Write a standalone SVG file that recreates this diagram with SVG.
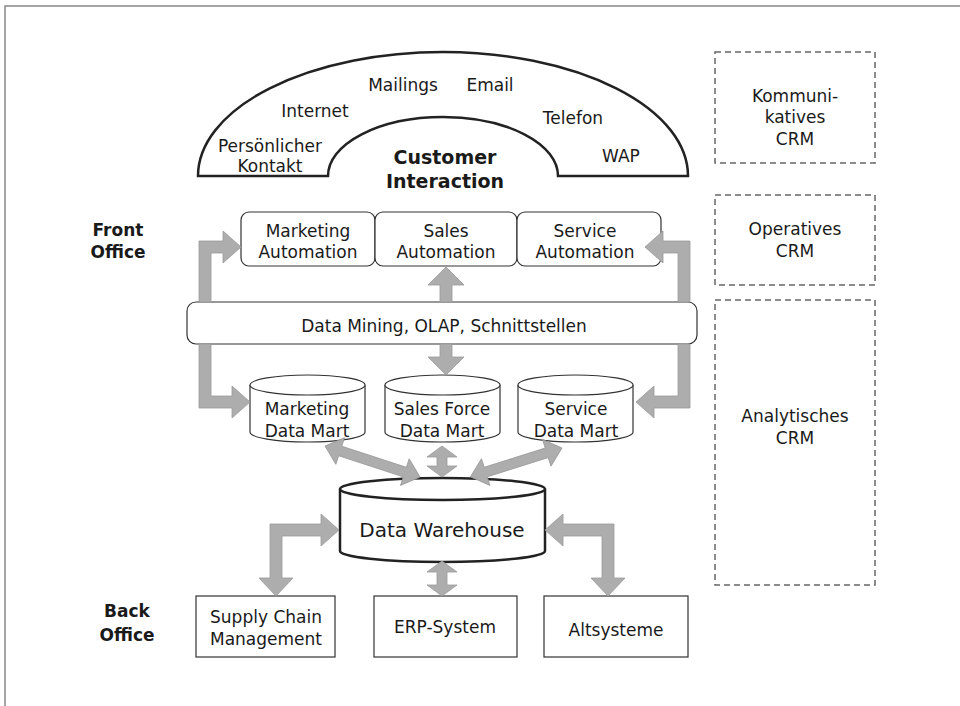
<svg xmlns="http://www.w3.org/2000/svg" width="960" height="706" viewBox="0 0 960 706">
<style>
text{font-family:"DejaVu Sans","Verdana",sans-serif;font-size:17px;fill:#1a1a1a;text-anchor:middle}
.b{font-weight:bold}
.bx{fill:#fff;stroke:#333;stroke-width:1.2}
.dash{fill:none;stroke:#666;stroke-width:1.5;stroke-dasharray:6,4}
.ar{fill:#adadad;stroke:#9a9a9a;stroke-width:0.8}
.cyl{fill:#fff;stroke:#333;stroke-width:1.2}
</style>
<rect width="960" height="706" fill="#fff"/>
<path d="M5,706 V6 H960" fill="none" stroke="#888" stroke-width="1.5"/>

<g id="customer-interaction">
<path d="M198,176 A245,124 0 0 1 688,176 H558 A115,59 0 0 0 328,176 Z" fill="#fff" stroke="#222" stroke-width="2.5"/>
<text x="403" y="91">Mailings</text>
<text x="490" y="91">Email</text>
<text x="315" y="117">Internet</text>
<text x="573" y="124">Telefon</text>
<text x="270" y="152">Persönlicher</text>
<text x="270" y="172">Kontakt</text>
<text x="621" y="162">WAP</text>
<text class="b" x="445" y="164" style="font-size:19px">Customer</text>
<text class="b" x="445" y="188" style="font-size:19px">Interaction</text>
</g>

<g id="front-office-label"><text class="b" x="118" y="236">Front</text><text class="b" x="118" y="258">Office</text></g>
<g id="back-office-label"><text class="b" x="127" y="617">Back</text><text class="b" x="127" y="641">Office</text></g>

<g id="kommunikatives-crm"><rect class="dash" x="715" y="52" width="160" height="111"/><text x="795" y="102">Kommuni-</text><text x="795" y="123">katives</text><text x="795" y="145">CRM</text></g>
<g id="operatives-crm"><rect class="dash" x="715" y="195" width="160" height="90"/><text x="795" y="235">Operatives</text><text x="795" y="257">CRM</text></g>
<g id="analytisches-crm"><rect class="dash" x="715" y="300" width="160" height="285"/><text x="795" y="422">Analytisches</text><text x="795" y="444">CRM</text></g>

<g id="marketing-automation"><rect class="bx" x="241" y="212" width="134" height="54" rx="8"/><text x="308" y="237">Marketing</text><text x="308" y="258">Automation</text></g>
<g id="sales-automation"><rect class="bx" x="375" y="212" width="142" height="54" rx="8"/><text x="446" y="237">Sales</text><text x="446" y="258">Automation</text></g>
<g id="service-automation"><rect class="bx" x="517" y="212" width="144" height="54" rx="8"/><text x="585" y="237">Service</text><text x="585" y="258">Automation</text></g>

<g id="data-mining"><rect class="bx" x="187" y="302" width="510" height="42" rx="9"/><text x="444" y="332">Data Mining, OLAP, Schnittstellen</text></g>

<g id="marketing-data-mart"><path class="cyl" d="M250,385 V432 A57.5,10 0 0 0 365,432 V385"/><ellipse class="cyl" cx="307.5" cy="385" rx="57.5" ry="10"/><text x="307" y="415">Marketing</text><text x="307" y="437">Data Mart</text></g>
<g id="sales-force-data-mart"><path class="cyl" d="M385,385 V432 A57.5,10 0 0 0 500,432 V385"/><ellipse class="cyl" cx="442.5" cy="385" rx="57.5" ry="10"/><text x="442" y="415">Sales Force</text><text x="442" y="437">Data Mart</text></g>
<g id="service-data-mart"><path class="cyl" d="M518,385 V432 A57.5,10 0 0 0 633,432 V385"/><ellipse class="cyl" cx="575.5" cy="385" rx="57.5" ry="10"/><text x="576" y="415">Service</text><text x="576" y="437">Data Mart</text></g>

<g id="data-warehouse"><path d="M340,489 V551 A102.5,11 0 0 0 545,551 V489" fill="#fff" stroke="#222" stroke-width="2.5"/><ellipse cx="442.5" cy="489" rx="102.5" ry="11" fill="#fff" stroke="#222" stroke-width="2.5"/><text x="442" y="537" style="font-size:20px">Data Warehouse</text></g>

<g id="supply-chain"><rect class="bx" x="196" y="596" width="139" height="61"/><text x="266" y="623">Supply Chain</text><text x="266" y="645">Management</text></g>
<g id="erp-system"><rect class="bx" x="374" y="596" width="143" height="61"/><text x="445" y="633">ERP-System</text></g>
<g id="altsysteme"><rect class="bx" x="544" y="596" width="144" height="61"/><text x="616" y="636">Altsysteme</text></g>

<g id="connectors">
<polygon class="ar" points="199,302 199,241 223,241 223,231 241,247 223,263 223,253 211,253 211,302"/>
<polygon class="ar" points="199,344 199,408 232,408 232,418 250,402 232,386 232,396 211,396 211,344"/>
<polygon class="ar" points="690,302 690,241 663,241 663,231 645,247 663,263 663,253 678,253 678,302"/>
<polygon class="ar" points="690,344 690,408 654,408 654,418 636,402 654,386 654,396 678,396 678,344"/>
<polygon class="ar" points="440,302 440,285 428,285 446,267 464,285 452,285 452,302"/>
<polygon class="ar" points="440,344 440,357 428,357 446,375 464,357 452,357 452,344"/>
<polygon class="ar" transform="translate(325,446) rotate(18.1)" points="0,0 16,-14 16,-5 84,-5 84,-14 100,0 84,14 84,5 16,5 16,14"/>
<polygon class="ar" points="442,446 457,457 447,457 447,466 457,466 442,477 427,466 437,466 437,457 427,457"/>
<polygon class="ar" transform="translate(562,448) rotate(162.5)" points="0,0 16,-14 16,-5 80,-5 80,-14 96,0 80,14 80,5 16,5 16,14"/>
<polygon class="ar" points="442,561 457,572 447,572 447,585 457,585 442,596 427,585 437,585 437,572 427,572"/>
<polygon class="ar" points="259,578 270,578 270,524 321,524 321,514 339,530 321,546 321,536 282,536 282,578 293,578 276,596"/>
<polygon class="ar" points="545,530 563,514 563,524 614,524 614,578 625,578 608,596 591,578 602,578 602,536 563,536 563,546"/>
</g>
</svg>
